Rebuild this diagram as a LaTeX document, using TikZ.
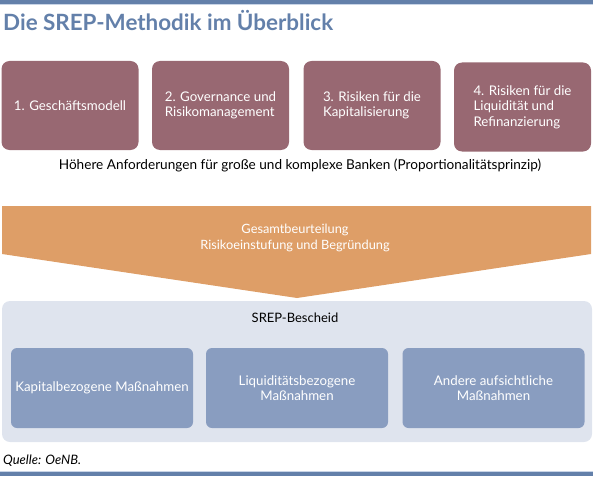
\documentclass[tikz,border=0pt]{standalone}
\usepackage{fontspec}
\setmainfont{Lato}
\usepackage{tikz}
\usetikzlibrary{positioning}
\definecolor{oenbblue}{RGB}{99,128,170}
\definecolor{oenblight}{RGB}{200,212,230}
\definecolor{stagecol}{RGB}{152,104,114}
\definecolor{assesscol}{RGB}{222,158,103}
\definecolor{panelcol}{RGB}{223,228,238}
\definecolor{measurecol}{RGB}{137,157,192}
\tikzset{stage/.style = {fill=stagecol, rounded corners=8pt, minimum width=137pt,
                         minimum height=89pt, inner sep=0pt, text=white, align=left,
                         font=\fontsize{13.3}{15.5}\selectfont}}
\tikzset{measure/.style = {fill=measurecol, rounded corners=6pt, minimum width=182pt,
                           minimum height=80pt, inner sep=0pt, text=white, align=center,
                           font=\fontsize{13.3}{15.5}\selectfont}}
\tikzset{every picture/.style={x=1pt, y=-1pt}}

\begin{document}
\begin{tikzpicture}
    \useasboundingbox (0,0) rectangle (593,476);
    \fill[oenbblue] (0,0) rectangle (593,4);
    \fill[oenblight] (0,4) rectangle (593,5);
    \node[anchor=base west, inner sep=0pt, text=oenbblue,
          font=\fontsize{22.4}{24}\selectfont\bfseries] (title) at (3,31)
          {Die SREP-Methodik im Überblick};
    \node[stage] (s1) at (70,105.5) {1. Geschäftsmodell};
    \node[stage] (s2) at (220.5,105.5) {2. Governance und\\Risikomanagement};
    \node[stage] (s3) at (372,105.5) {3. Risiken für die\\Kapitalisierung};
    \node[stage] (s4) at (522.5,107) {4. Risiken für die\\Liquidität und\\Refinanzierung};
    \node[font=\fontsize{13.6}{15}\selectfont] (prop) at (300,165)
          {Höhere Anforderungen für große und komplexe Banken (Proportionalitätsprinzip)};
    \fill[assesscol] (2,206) -- (591,206) -- (591,254) -- (297,298) -- (2,254) -- cycle;
    \node[text=white, align=center, font=\fontsize{12.8}{15.5}\selectfont] (assess) at (295,238)
          {Gesamtbeurteilung\\Risikoeinstufung und Begründung};
    \fill[panelcol, rounded corners=8pt] (2,301) rectangle (592,442);
    \node[font=\fontsize{13}{14}\selectfont] (srep) at (295,318) {SREP-Bescheid};
    \node[measure] (m1) at (102,388) {Kapitalbezogene Maßnahmen};
    \node[measure] (m2) at (297,388) {Liquiditätsbezogene\\Maßnahmen};
    \node[measure] (m3) at (493.5,388) {Andere aufsichtliche\\Maßnahmen};
    \node[anchor=base west, inner sep=0pt, font=\fontsize{13}{14}\selectfont\itshape]
          (source) at (3,464) {Quelle: OeNB.};
    \fill[oenblight] (0,471) rectangle (593,472);
    \fill[oenbblue] (0,472) rectangle (593,476);
\end{tikzpicture}
\end{document}
